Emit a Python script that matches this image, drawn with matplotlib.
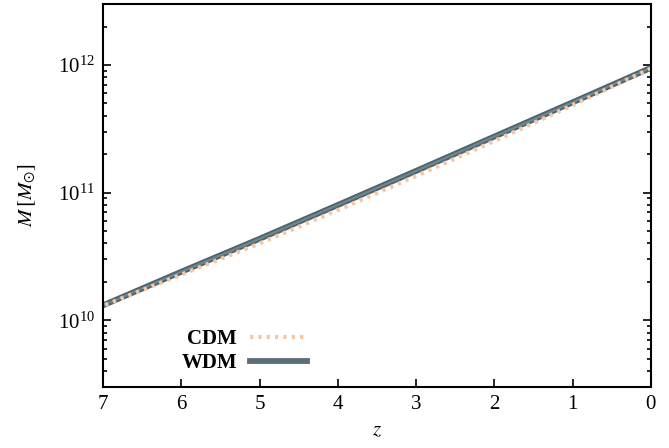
import matplotlib
matplotlib.use("Agg")
import matplotlib.pyplot as plt
import numpy as np
from matplotlib.ticker import LogLocator, NullFormatter
from matplotlib.lines import Line2D

plt.rcParams['font.family'] = ['Liberation Serif', 'DejaVu Serif']
plt.rcParams['mathtext.fontset'] = 'stix'

# redshift and halo mass
z = [0, 1, 2, 3, 4, 5, 6, 7]
m_cdm = [9.4e11, 4.85e11, 2.54e11, 1.35e11, 7.3e10, 4.0e10, 2.28e10, 1.3e10]
m_wdm = [9.5e11, 5.1e11, 2.75e11, 1.48e11, 8.0e10, 4.35e10, 2.4e10, 1.31e10]

fig = plt.figure(figsize=(6.69, 4.48), dpi=100)
ax = fig.add_axes([0.154, 0.136, 0.819, 0.855])

ax.plot(z, m_wdm, color='#4f626b', lw=4.2, solid_capstyle='butt')
ax.plot(z, m_wdm, color='#6e8690', lw=1.6, solid_capstyle='butt')
ax.plot(z, m_cdm, color='#f6c7a4', lw=3.0, dashes=(0.8, 1.2))

ax.set_yscale('log')
ax.set_xlim(7, 0)
ax.set_ylim(3e9, 3e12)
ax.set_xticks(range(8))
ax.yaxis.set_minor_locator(LogLocator(base=10, subs=np.arange(2, 10)))
ax.yaxis.set_minor_formatter(NullFormatter())

ax.tick_params(which='both', direction='in', left=True, right=True, top=False, labelsize=15)
ax.tick_params(which='major', length=6, width=1.2, pad=6)
ax.tick_params(which='minor', length=3, width=1.2)
for s in ax.spines.values():
    s.set_linewidth(1.5)

ax.set_xlabel('$z$', fontsize=15, labelpad=5)
ax.set_ylabel(r'$M\,[M_{\odot}]$', fontsize=15, labelpad=14)

h_cdm = Line2D([], [], color='#f6c7a4', lw=3.0, dashes=(0.8, 1.2))
h_wdm = Line2D([], [], color='#5a6e78', lw=4.2)
ax.legend([h_cdm, h_wdm], ['CDM', 'WDM'], loc='lower left', bbox_to_anchor=(0.109, -0.013),
          frameon=False, markerfirst=False, handlelength=2.75, handletextpad=0.6,
          labelspacing=0.2, prop={'size': 15, 'weight': 'bold'})

fig.savefig('out.png', dpi=100)
